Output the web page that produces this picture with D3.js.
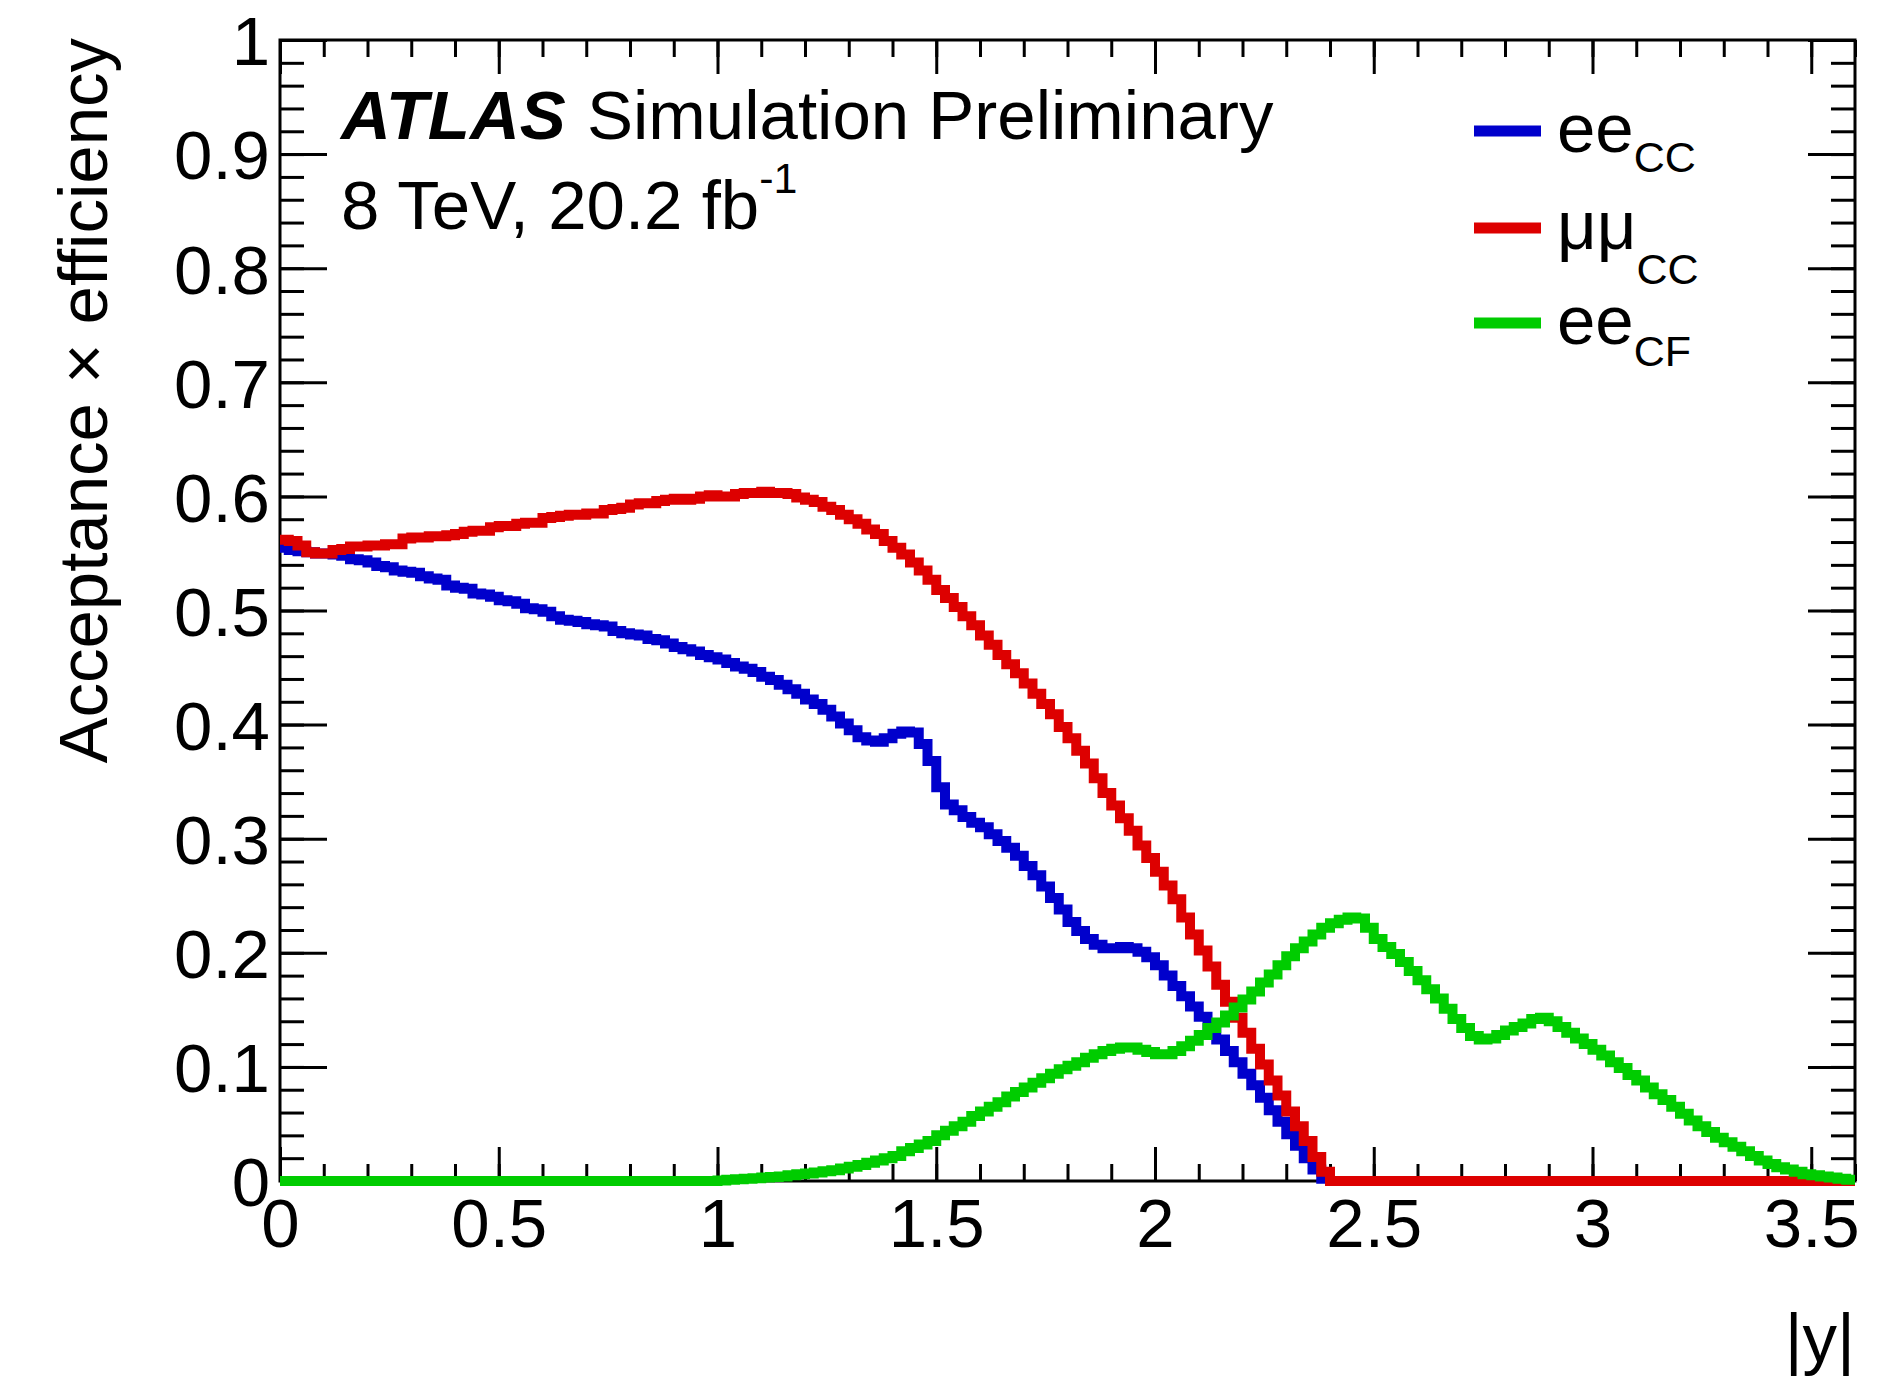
<!DOCTYPE html>
<html>
<head>
<meta charset="utf-8">
<script src="https://cdn.jsdelivr.net/npm/d3@7"></script>
<style>
  body { margin: 0; background: #fff; }
  text { font-family: "Liberation Sans", Arial, Helvetica, sans-serif; fill: #000; }
</style>
</head>
<body>
<div id="main"></div>
<script>
// binning of the |y| histograms
var xLo = 0, xHi = 3.6, nBins = 180;

// ee CC (blue)
var eeCC = [
  0.555, 0.553, 0.552, 0.551, 0.550, 0.550, 0.549, 0.548, 0.545, 0.544,
  0.542, 0.539, 0.538, 0.535, 0.534, 0.533, 0.530, 0.528, 0.527, 0.522,
  0.520, 0.519, 0.515, 0.514, 0.512, 0.509, 0.508, 0.506, 0.502, 0.501,
  0.499, 0.495, 0.492, 0.491, 0.490, 0.488, 0.487, 0.486, 0.482, 0.480,
  0.479, 0.478, 0.475, 0.474, 0.471, 0.468, 0.466, 0.464, 0.461, 0.459,
  0.457, 0.454, 0.451, 0.449, 0.446, 0.442, 0.439, 0.435, 0.431, 0.427,
  0.422, 0.418, 0.413, 0.407, 0.401, 0.395, 0.389, 0.386, 0.385, 0.388,
  0.392, 0.394, 0.393, 0.383, 0.368, 0.345, 0.330, 0.325, 0.319, 0.314,
  0.310, 0.304, 0.298, 0.292, 0.285, 0.276, 0.268, 0.258, 0.248, 0.238,
  0.227, 0.219, 0.212, 0.207, 0.204, 0.204, 0.205, 0.204, 0.201, 0.196,
  0.189, 0.180, 0.171, 0.162, 0.153, 0.144, 0.135, 0.124, 0.114, 0.104,
  0.094, 0.084, 0.073, 0.062, 0.052, 0.041, 0.031, 0.020, 0.010, 0.002,
  0, 0, 0, 0, 0, 0, 0, 0, 0, 0,
  0, 0, 0, 0, 0, 0, 0, 0, 0, 0,
  0, 0, 0, 0, 0, 0, 0, 0, 0, 0,
  0, 0, 0, 0, 0, 0, 0, 0, 0, 0,
  0, 0, 0, 0, 0, 0, 0, 0, 0, 0,
  0, 0, 0, 0, 0, 0, 0, 0, 0, 0
];

// mumu CC (red)
var mumuCC = [
  0.562, 0.561, 0.557, 0.551, 0.550, 0.550, 0.553, 0.554, 0.556, 0.556,
  0.557, 0.557, 0.558, 0.558, 0.563, 0.564, 0.564, 0.565, 0.565, 0.566,
  0.567, 0.569, 0.570, 0.570, 0.573, 0.574, 0.574, 0.576, 0.577, 0.577,
  0.581, 0.582, 0.583, 0.584, 0.584, 0.585, 0.585, 0.588, 0.589, 0.590,
  0.593, 0.594, 0.594, 0.596, 0.597, 0.598, 0.597, 0.598, 0.600, 0.601,
  0.600, 0.600, 0.602, 0.603, 0.603, 0.604, 0.603, 0.603, 0.602, 0.599,
  0.597, 0.595, 0.591, 0.588, 0.584, 0.580, 0.576, 0.571, 0.567, 0.561,
  0.555, 0.549, 0.542, 0.535, 0.527, 0.518, 0.511, 0.503, 0.495, 0.487,
  0.478, 0.470, 0.461, 0.453, 0.445, 0.436, 0.427, 0.418, 0.409, 0.398,
  0.388, 0.377, 0.366, 0.353, 0.340, 0.329, 0.318, 0.307, 0.294, 0.283,
  0.271, 0.259, 0.247, 0.231, 0.216, 0.202, 0.188, 0.172, 0.157, 0.143,
  0.130, 0.116, 0.102, 0.088, 0.075, 0.061, 0.048, 0.035, 0.021, 0.008,
  0, 0, 0, 0, 0, 0, 0, 0, 0, 0,
  0, 0, 0, 0, 0, 0, 0, 0, 0, 0,
  0, 0, 0, 0, 0, 0, 0, 0, 0, 0,
  0, 0, 0, 0, 0, 0, 0, 0, 0, 0,
  0, 0, 0, 0, 0, 0, 0, 0, 0, 0,
  0, 0, 0, 0, 0, 0, 0, 0, 0, 0
];

// ee CF (green)
var eeCF = [
  0, 0, 0, 0, 0, 0, 0, 0, 0, 0,
  0, 0, 0, 0, 0, 0, 0, 0, 0, 0,
  0, 0, 0, 0, 0, 0, 0, 0, 0, 0,
  0, 0, 0, 0, 0, 0, 0, 0, 0, 0,
  0, 0, 0, 0, 0, 0, 0, 0, 0, 0,
  0.0005, 0.001, 0.0015, 0.002, 0.0025, 0.003, 0.0035, 0.004, 0.005, 0.006,
  0.0065, 0.0075, 0.0085, 0.0095, 0.011, 0.0125, 0.014, 0.016, 0.018, 0.020,
  0.022, 0.026, 0.029, 0.032, 0.035, 0.040, 0.044, 0.048, 0.052, 0.057,
  0.061, 0.065, 0.069, 0.074, 0.078, 0.082, 0.086, 0.090, 0.094, 0.098,
  0.101, 0.104, 0.108, 0.111, 0.114, 0.116, 0.117, 0.117, 0.115, 0.113,
  0.111, 0.111, 0.114, 0.118, 0.123, 0.128, 0.134, 0.139, 0.145, 0.152,
  0.159, 0.166, 0.174, 0.181, 0.189, 0.197, 0.204, 0.210, 0.216, 0.222,
  0.226, 0.229, 0.231, 0.230, 0.222, 0.212, 0.205, 0.199, 0.192, 0.184,
  0.176, 0.168, 0.160, 0.151, 0.142, 0.134, 0.127, 0.124, 0.125, 0.128,
  0.132, 0.135, 0.138, 0.142, 0.143, 0.140, 0.135, 0.130, 0.125, 0.120,
  0.115, 0.110, 0.104, 0.099, 0.093, 0.088, 0.082, 0.076, 0.071, 0.065,
  0.059, 0.053, 0.048, 0.043, 0.038, 0.034, 0.030, 0.026, 0.022, 0.018,
  0.015, 0.012, 0.010, 0.008, 0.006, 0.005, 0.004, 0.003, 0.002, 0.001
];

var xMajor = [0, 0.5, 1, 1.5, 2, 2.5, 3, 3.5];
var xMinor = d3.range(0, 37).map(function(i) { return i / 10; });
var yMajor = d3.range(0, 11).map(function(i) { return i / 10; });
var yMinor = d3.range(0, 51).map(function(i) { return i / 50; });

var series = [
  { name: "ee", sub: "CC", values: eeCC, color: "#0000cc", subDy: 20 },
  { name: "\u03bc\u03bc", sub: "CC", values: mumuCC, color: "#dd0000", subDy: 35 },
  { name: "ee", sub: "CF", values: eeCF, color: "#00cc00", subDy: 22 }
];

var W = 1891, H = 1378;
var padL = 280, padR = 1855, padT = 40, padB = 1181;

var svg = d3.select("#main").append("svg")
    .attr("width", W)
    .attr("height", H)
    .style("display", "block");

svg.append("rect").attr("width", W).attr("height", H).attr("fill", "#fff");

var x = d3.scaleLinear().domain([xLo, xHi]).range([padL, padR]);
var y = d3.scaleLinear().domain([0, 1]).range([padB, padT]);

function fmt(v) { return String(+v.toFixed(1)); }

// axes: ticks drawn inward like ROOT
function styleAxis(g) {
  g.select(".domain").remove();
  g.selectAll("line").attr("stroke", "#000").attr("stroke-width", 3);
  g.selectAll("text").attr("font-size", 69).attr("fill", "#000")
    .attr("font-family", "'Liberation Sans', Arial, sans-serif");
}

svg.append("g").attr("transform", "translate(0," + padB + ")")
  .call(d3.axisBottom(x).tickValues(xMinor).tickSize(-17).tickFormat(""))
  .call(styleAxis);
svg.append("g").attr("transform", "translate(0," + padB + ")")
  .call(d3.axisBottom(x).tickValues(xMajor).tickSize(-34).tickPadding(17).tickFormat(fmt))
  .call(styleAxis);
svg.append("g").attr("transform", "translate(0," + padT + ")")
  .call(d3.axisTop(x).tickValues(xMinor).tickSize(-17).tickFormat(""))
  .call(styleAxis);
svg.append("g").attr("transform", "translate(0," + padT + ")")
  .call(d3.axisTop(x).tickValues(xMajor).tickSize(-34).tickFormat(""))
  .call(styleAxis);

svg.append("g").attr("transform", "translate(" + padL + ",0)")
  .call(d3.axisLeft(y).tickValues(yMinor).tickSize(-24).tickFormat(""))
  .call(styleAxis);
var yAx = svg.append("g").attr("transform", "translate(" + padL + ",0)")
  .call(d3.axisLeft(y).tickValues(yMajor).tickSize(-47).tickPadding(10).tickFormat(fmt))
  .call(styleAxis);
yAx.selectAll("text").attr("dy", "0.36em");
svg.append("g").attr("transform", "translate(" + padR + ",0)")
  .call(d3.axisRight(y).tickValues(yMinor).tickSize(-24).tickFormat(""))
  .call(styleAxis);
svg.append("g").attr("transform", "translate(" + padR + ",0)")
  .call(d3.axisRight(y).tickValues(yMajor).tickSize(-47).tickFormat(""))
  .call(styleAxis);

svg.append("rect")
    .attr("x", padL).attr("y", padT)
    .attr("width", padR - padL).attr("height", padB - padT)
    .attr("fill", "none").attr("stroke", "#000").attr("stroke-width", 3);

// histograms as steps
var edges = d3.range(nBins + 1).map(function(i) { return xLo + i * (xHi - xLo) / nBins; });
var line = d3.line()
    .x(function(d) { return x(d[0]); })
    .y(function(d) { return y(d[1]); })
    .curve(d3.curveStepAfter);

series.forEach(function(s) {
  var pts = s.values.map(function(v, i) { return [edges[i], v]; });
  pts.push([edges[nBins], s.values[nBins - 1]]);
  svg.append("path")
      .datum(pts)
      .attr("d", line)
      .attr("fill", "none")
      .attr("stroke", s.color)
      .attr("stroke-width", 10)
      .attr("stroke-linejoin", "miter");
});

// axis titles
svg.append("text")
    .attr("x", padR).attr("y", 1362)
    .attr("text-anchor", "end")
    .attr("font-size", 69)
    .text("|y|");

svg.append("text")
    .attr("transform", "translate(107,38) rotate(-90)")
    .attr("text-anchor", "end")
    .attr("font-size", 69)
    .text("Acceptance \u00d7 efficiency");

// ATLAS label
var lab = svg.append("text").attr("x", 341).attr("y", 139).attr("font-size", 69);
lab.append("tspan").attr("font-weight", "bold").attr("font-style", "italic").text("ATLAS");
svg.append("text").attr("x", 587).attr("y", 139).attr("font-size", 69).text("Simulation Preliminary");

var lumi = svg.append("text").attr("x", 341).attr("y", 229).attr("font-size", 69);
lumi.append("tspan").text("8 TeV, 20.2 fb");
lumi.append("tspan").attr("font-size", 43).attr("dy", -36).text("-1");

// legend
var legY = [131, 228, 323];
series.forEach(function(s, i) {
  svg.append("line")
      .attr("x1", 1474).attr("x2", 1541)
      .attr("y1", legY[i]).attr("y2", legY[i])
      .attr("stroke", s.color).attr("stroke-width", 11);
  var t = svg.append("text").attr("x", 1557).attr("y", legY[i] + 21).attr("font-size", 69);
  t.append("tspan").text(s.name);
  t.append("tspan").attr("font-size", 43).attr("dy", s.subDy).text(s.sub);
});
</script>
</body>
</html>
